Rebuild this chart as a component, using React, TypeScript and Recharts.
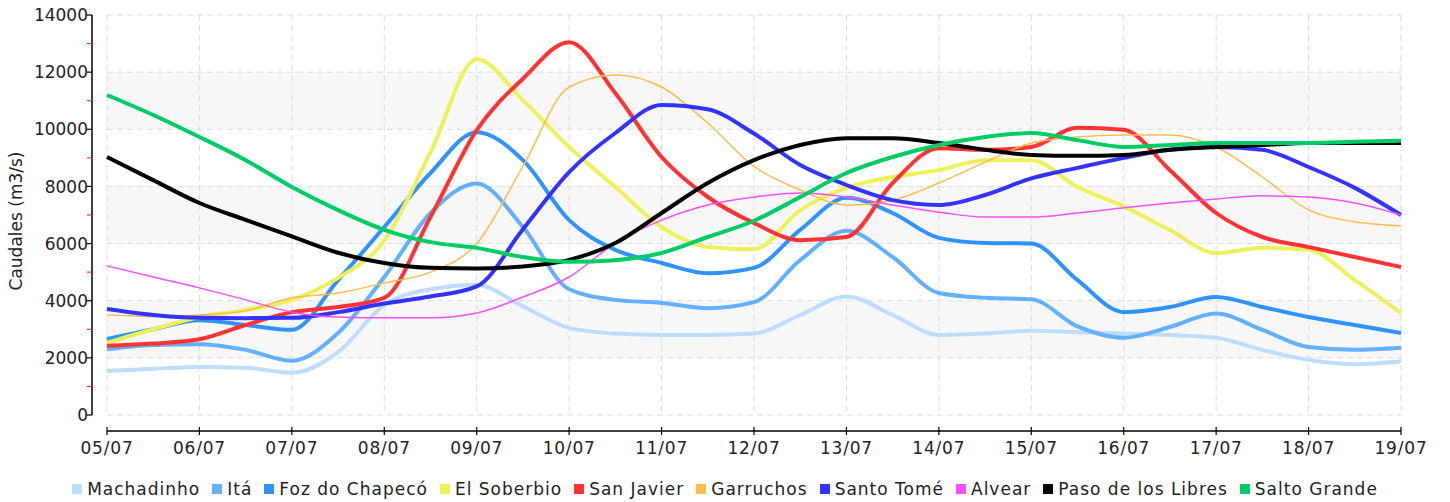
import { LineChart, Line, XAxis, YAxis, CartesianGrid, Legend } from 'recharts'

// 05/07 a 19/07, cada 12 horas
const fechas = [
  '05/07 00h', '05/07 12h', '06/07 00h', '06/07 12h', '07/07 00h', '07/07 12h',
  '08/07 00h', '08/07 12h', '09/07 00h', '09/07 12h', '10/07 00h', '10/07 12h',
  '11/07 00h', '11/07 12h', '12/07 00h', '12/07 12h', '13/07 00h', '13/07 12h',
  '14/07 00h', '14/07 12h', '15/07 00h', '15/07 12h', '16/07 00h', '16/07 12h',
  '17/07 00h', '17/07 12h', '18/07 00h', '18/07 12h', '19/07 00h',
]
const diasTicks = [
  '05/07 00h', '06/07 00h', '07/07 00h', '08/07 00h', '09/07 00h', '10/07 00h', '11/07 00h', '12/07 00h',
  '13/07 00h', '14/07 00h', '15/07 00h', '16/07 00h', '17/07 00h', '18/07 00h', '19/07 00h',
]
const yTicks = [0, 1000, 2000, 3000, 4000, 5000, 6000, 7000, 8000, 9000, 10000, 11000, 12000, 13000, 14000]
const yGrid = [0, 2000, 4000, 6000, 8000, 10000, 12000, 14000]

const machadinho = [1540, 1620, 1680, 1650, 1480, 2200, 3850, 4400, 4550, 3800, 3050, 2850, 2800, 2800, 2850, 3500, 4150, 3500, 2800, 2850, 2950, 2900, 2850, 2800, 2700, 2280, 1930, 1780, 1880]
const ita = [2300, 2450, 2480, 2280, 1900, 2870, 4830, 7070, 8100, 6580, 4400, 4030, 3920, 3740, 3950, 5420, 6450, 5530, 4270, 4100, 4050, 3100, 2700, 3080, 3550, 2980, 2380, 2280, 2350]
const foz = [2660, 3000, 3320, 3150, 2980, 4720, 6580, 8470, 9900, 8920, 6820, 5780, 5320, 4960, 5150, 6480, 7600, 7070, 6200, 6020, 6000, 4720, 3600, 3780, 4130, 3780, 3430, 3150, 2870]
const soberbio = [2520, 3000, 3430, 3680, 4030, 4800, 6100, 9200, 12450, 11020, 9380, 7980, 6580, 5880, 5800, 7170, 7950, 8330, 8570, 8920, 8920, 7980, 7300, 6470, 5670, 5850, 5780, 4720, 3570]
const sanJavier = [2420, 2500, 2650, 3150, 3600, 3780, 4100, 6930, 9970, 11770, 13050, 11260, 9030, 7630, 6720, 6120, 6230, 8120, 9340, 9280, 9380, 10050, 9980, 8570, 7070, 6230, 5880, 5530, 5180]
const garruchos = [3500, 3450, 3500, 3650, 4100, 4270, 4620, 5000, 6000, 8700, 11480, 11900, 11480, 10220, 8700, 7880, 7350, 7520, 8120, 8850, 9520, 9730, 9800, 9800, 9380, 8330, 7180, 6760, 6620]
const santoTome = [3710, 3500, 3400, 3390, 3400, 3600, 3900, 4150, 4500, 6500, 8500, 9870, 10850, 10700, 9850, 8750, 8050, 7520, 7350, 7700, 8280, 8650, 9000, 9280, 9380, 9280, 8680, 7950, 7000]
const alvear = [5220, 4830, 4450, 4030, 3600, 3430, 3400, 3400, 3570, 4130, 4830, 6020, 6820, 7350, 7630, 7770, 7630, 7350, 7100, 6930, 6930, 7070, 7250, 7420, 7560, 7670, 7630, 7420, 7000]
const pasoLibres = [9030, 8220, 7420, 6830, 6250, 5680, 5320, 5150, 5130, 5200, 5430, 6020, 7070, 8120, 8920, 9450, 9690, 9690, 9520, 9280, 9100, 9070, 9100, 9280, 9380, 9450, 9520, 9520, 9520]
const saltoGrande = [11200, 10500, 9730, 8920, 7980, 7170, 6480, 6050, 5850, 5530, 5360, 5420, 5670, 6230, 6800, 7630, 8470, 9030, 9450, 9730, 9870, 9620, 9380, 9450, 9520, 9520, 9520, 9560, 9600]

const series = [
  { key: 'machadinho', name: 'Machadinho', values: machadinho, color: '#bddcff', width: 4 },
  { key: 'ita', name: 'Itá', values: ita, color: '#62b0ff', width: 4 },
  { key: 'foz', name: 'Foz do Chapecó', values: foz, color: '#2f93ff', width: 4 },
  { key: 'soberbio', name: 'El Soberbio', values: soberbio, color: '#eef05a', width: 4 },
  { key: 'sanJavier', name: 'San Javier', values: sanJavier, color: '#ff3333', width: 4 },
  { key: 'garruchos', name: 'Garruchos', values: garruchos, color: '#ffbb4d', width: 1.5 },
  { key: 'santoTome', name: 'Santo Tomé', values: santoTome, color: '#3333ff', width: 4 },
  { key: 'alvear', name: 'Alvear', values: alvear, color: '#ff4dff', width: 1.5 },
  { key: 'pasoLibres', name: 'Paso de los Libres', values: pasoLibres, color: '#000000', width: 4 },
  { key: 'saltoGrande', name: 'Salto Grande', values: saltoGrande, color: '#00cc66', width: 4 },
]

const data = fechas.map((fecha, i) => {
  const row: Record<string, any> = { fecha }
  series.forEach(s => { row[s.key] = s.values[i] })
  return row
})

const FONT = 'DejaVu Sans, Verdana, sans-serif'
const TEXT = '#222'

function YTick({ x, y, payload }: any) {
  const v = payload.value
  const major = v % 2000 === 0
  const ax = x - 15
  return (
    <g>
      <line x1={ax - 5} x2={ax} y1={y} y2={y} stroke={major ? '#000' : '#ff3333'} strokeWidth={1.2} />
      {major && (
        <text x={ax - 4} y={y} dy="0.36em" textAnchor="end" fontFamily={FONT} fontSize={17} fill={TEXT}>
          {v}
        </text>
      )}
    </g>
  )
}

function XTick({ x, y, payload }: any) {
  const ay = y + 16
  return (
    <g>
      <line x1={x} x2={x} y1={ay - 4} y2={ay + 4} stroke="#000" strokeWidth={1.2} />
      <text x={x} y={ay + 23} textAnchor="middle" fontFamily={FONT} fontSize={17} letterSpacing={0.8} fill={TEXT}>
        {String(payload.value).slice(0, 5)}
      </text>
    </g>
  )
}

function YTitle({ viewBox }: any) {
  const cx = viewBox.x + 16
  const cy = viewBox.y + viewBox.height / 2 + 6
  return (
    <text x={cx} y={cy} transform={`rotate(-90 ${cx} ${cy})`} textAnchor="middle" dominantBaseline="central"
      fontFamily={FONT} fontSize={17} fill={TEXT}>
      Caudales (m3/s)
    </text>
  )
}

function Leyenda() {
  return (
    <div style={{ height: 26, display: 'flex', justifyContent: 'center', alignItems: 'center', gap: 12, fontFamily: FONT, fontSize: 17, letterSpacing: 1, color: TEXT, whiteSpace: 'nowrap' }}>
      {series.map(s => (
        <span key={s.key} style={{ display: 'inline-flex', alignItems: 'center' }}>
          <span style={{ width: 10, height: 10, background: s.color, marginRight: 5, display: 'inline-block' }} />
          {s.name}
        </span>
      ))}
    </div>
  )
}

export default function App() {
  return (
    <div style={{ position: 'absolute', left: 0, top: 0, width: 1450, height: 502, background: '#fff' }}>
      <LineChart width={1450} height={502} data={data} margin={{ top: 15, right: 49, bottom: 0, left: 0 }}>
        <CartesianGrid
          stroke="#dcdcdc"
          strokeDasharray="6 4"
          horizontalValues={yGrid}
          horizontalFill={['#ffffff', '#f7f7f7']}
          fillOpacity={1}
        />
        <XAxis
          dataKey="fecha"
          ticks={diasTicks}
          interval={0}
          height={61}
          tickSize={0}
          tickMargin={0}
          tick={<XTick />}
          axisLine={{ stroke: '#000', strokeWidth: 1.5, transform: 'translate(0 16)' }}
        />
        <YAxis
          width={107}
          domain={[0, 14000]}
          ticks={yTicks}
          interval={0}
          tickSize={0}
          tickMargin={0}
          tick={<YTick />}
          axisLine={{ stroke: '#000', strokeWidth: 1.5, transform: 'translate(-15 0)' }}
          label={<YTitle />}
        />
        <Legend verticalAlign="bottom" content={<Leyenda />} wrapperStyle={{ left: 0, width: 1450 }} />
        {series.map(s => (
          <Line
            key={s.key}
            type="monotone"
            dataKey={s.key}
            name={s.name}
            stroke={s.color}
            strokeWidth={s.width}
            dot={false}
            activeDot={false}
            isAnimationActive={false}
          />
        ))}
      </LineChart>
    </div>
  )
}
